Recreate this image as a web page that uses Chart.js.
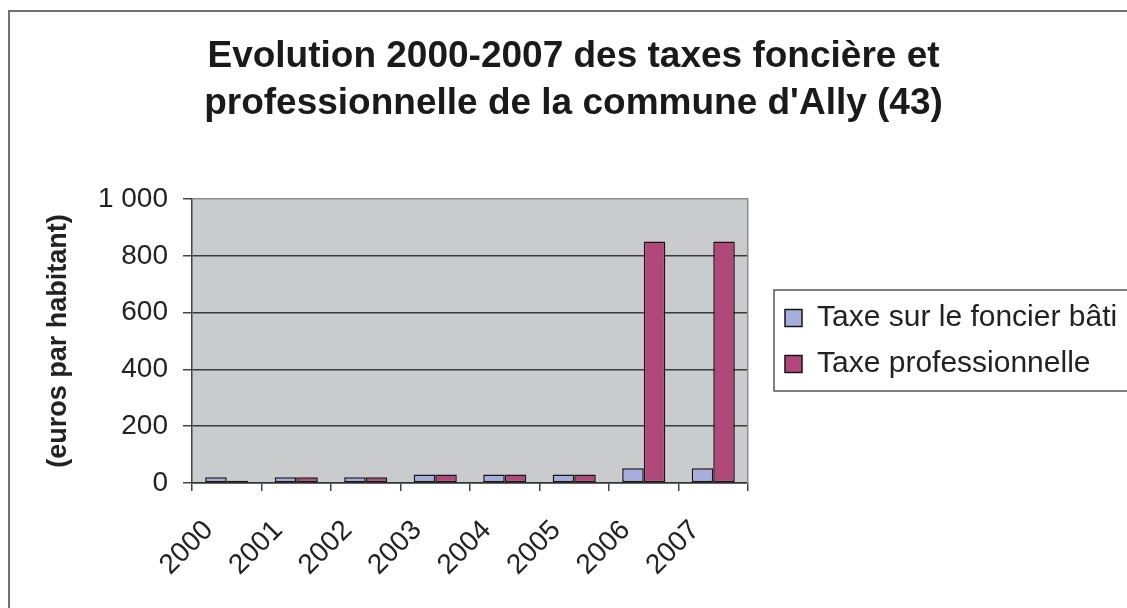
<!DOCTYPE html>
<html lang="fr">
<head>
<meta charset="utf-8">
<title>Taxes foncière et professionnelle - Ally (43)</title>
<script src="https://cdn.jsdelivr.net/npm/chart.js@4.4.1/dist/chart.umd.min.js"></script>
<style>
    html, body { margin: 0; padding: 0; background: #fff; overflow: hidden; }
    #page { position: relative; width: 1127px; height: 608px; }
    #frame {
        position: absolute; left: 8px; top: 10px; width: 1200px; height: 700px;
        border-left: 2px solid #707070; border-top: 2px solid #707070;
    }
    #wrap { position: absolute; left: 0; top: 0; width: 1127px; height: 608px; }
</style>
</head>
<body>
<div id="page">
    <div id="frame"></div>
    <div id="wrap"><canvas id="taxesChart"></canvas></div>
</div>
<script>
// Data
const years = ["2000", "2001", "2002", "2003", "2004", "2005", "2006", "2007"];
const foncierBati = [20, 20, 20, 30, 30, 30, 52, 52];
const taxePro = [8, 20, 20, 30, 30, 30, 850, 850];
const seriesNames = ["Taxe sur le foncier bâti", "Taxe professionnelle"];
const titleLines = ["Evolution 2000-2007 des taxes foncière et", "professionnelle de la commune d'Ally (43)"];
const yAxisTitle = "(euros par habitant)";

Chart.defaults.font.family = "'Liberation Sans', Arial, sans-serif";
Chart.defaults.color = "#222";

// grey plot background
const plotBackground = {
    id: "plotBackground",
    beforeDraw(chart) {
        const { ctx, chartArea: a } = chart;
        ctx.save();
        ctx.fillStyle = "#c9cbcd";
        ctx.fillRect(a.left, a.top, a.right - a.left, a.bottom - a.top);
        ctx.restore();
    }
};

// frame around the legend (runs off the right edge like the original)
const legendFrame = {
    id: "legendFrame",
    afterDraw(chart) {
        const lg = chart.legend;
        if (!lg || !lg.legendHitBoxes || !lg.legendHitBoxes.length) return;
        const boxes = lg.legendHitBoxes;
        const first = boxes[0], last = boxes[boxes.length - 1];
        const ctx = chart.ctx;
        const top = first.top - 13;
        const bottom = last.top + last.height + 12;
        ctx.save();
        ctx.strokeStyle = "#555";
        ctx.lineWidth = 1.5;
        ctx.strokeRect(lg.left + 5, top, chart.width, bottom - top);
        ctx.restore();
    }
};

const ctx = document.getElementById("taxesChart").getContext("2d");

new Chart(ctx, {
    type: "bar",
    data: {
        labels: years,
        datasets: [{
            label: seriesNames[0],
            data: foncierBati,
            backgroundColor: "#a7aede",
            borderColor: "#151515",
            borderWidth: 1.5,
            borderSkipped: false
        }, {
            label: seriesNames[1],
            data: taxePro,
            backgroundColor: "#b0497a",
            borderColor: "#151515",
            borderWidth: 1.5,
            borderSkipped: false
        }]
    },
    options: {
        responsive: true,
        maintainAspectRatio: false,
        animation: false,
        datasets: {
            bar: { categoryPercentage: 0.62, barPercentage: 1.0 }
        },
        layout: { padding: { left: 20, right: 0, top: 0, bottom: 0 } },
        plugins: {
            tooltip: { enabled: false },
            title: {
                display: true,
                text: titleLines,
                color: "#1a1a1a",
                font: { size: 37, weight: "bold", lineHeight: 1.27 },
                padding: { top: 33.5, bottom: 71.5 }
            },
            legend: {
                display: true,
                position: "right",
                fullSize: false,
                maxWidth: 358,
                labels: {
                    color: "#222",
                    font: { size: 30 },
                    boxWidth: 17,
                    boxHeight: 17,
                    padding: 16
                }
            }
        },
        scales: {
            x: {
                grid: {
                    display: true,
                    drawOnChartArea: false,
                    drawTicks: true,
                    tickLength: 8,
                    color: "#444",
                    lineWidth: 1.5
                },
                border: { display: true, color: "#333", width: 1.5 },
                ticks: {
                    autoSkip: false,
                    minRotation: 45,
                    maxRotation: 45,
                    labelOffset: -18,
                    padding: 23,
                    color: "#222",
                    font: { size: 28 }
                },
                afterFit: s => { s.height = 125; }
            },
            y: {
                min: 0,
                max: 1000,
                grid: {
                    color: c => (c.tick && c.tick.value === 1000 ? "#8e8e8e" : "#3a3a3a"),
                    lineWidth: 1.5,
                    drawTicks: true,
                    tickLength: 9,
                    tickColor: "#444"
                },
                border: { display: true, color: "#444", width: 1.5 },
                ticks: {
                    stepSize: 200,
                    padding: 15,
                    color: "#222",
                    font: { size: 28 },
                    callback: v => String(v).replace(/\B(?=(\d{3})+(?!\d))/g, " ")
                },
                title: {
                    display: true,
                    text: yAxisTitle,
                    color: "#222",
                    font: { size: 27, weight: "bold" },
                    padding: { top: 22.8, bottom: 0 }
                },
                afterFit: s => { s.width = 172; }
            },
            // empty right axis: only draws the plot's right edge and spaces the legend
            y2: {
                type: "linear",
                display: true,
                position: "right",
                grid: { display: false, drawTicks: false },
                border: { display: true, color: "#8e8e8e", width: 1.5 },
                ticks: { display: false },
                afterFit: s => { s.width = 21; }
            }
        }
    },
    plugins: [plotBackground, legendFrame]
});
</script>
</body>
</html>
